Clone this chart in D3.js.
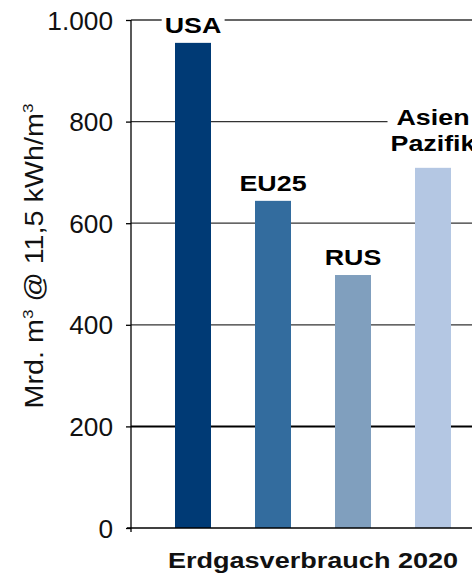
<!DOCTYPE html>
<html>
<head>
<meta charset="utf-8">
<script src="https://cdn.jsdelivr.net/npm/d3@7"></script>
<style>
  body { margin: 0; background: #fff; }
  svg { display: block; font-family: "Liberation Sans", Arial, sans-serif; }
</style>
</head>
<body>
<svg width="472" height="573"></svg>
<script>
var regions = ["USA", "EU25", "RUS", "Asien Pazifik"];
var labels = [["USA"], ["EU25"], ["RUS"], ["Asien", "Pazifik"]];
var values = [955, 644, 498, 709];
var colors = ["#003a75", "#336c9e", "#809fbe", "#b4c7e3"];
var ticks = [0, 200, 400, 600, 800, 1000];
var tickLabels = ["0", "200", "400", "600", "800", "1.000"];

var svg = d3.select("svg"),
  width = +svg.attr("width"),
  height = +svg.attr("height");

// the source picture is stretched sideways a bit, so text gets scaleX
var stretch = 1.22;

var y = d3.scaleLinear().domain([0, 1000]).range([528, 20]);
var x = d3.scaleBand().domain(regions).range([131, 495]).padding(0.55);

// gridlines
svg.selectAll(".grid")
  .data(ticks.slice(1))
  .enter().append("line")
  .attr("x1", 131).attr("x2", 495)
  .attr("y1", function(d) { return y(d); })
  .attr("y2", function(d) { return y(d); })
  .attr("stroke", function(d) { return d == 200 ? "#000" : "#333"; })
  .attr("stroke-width", function(d) { return d == 200 ? 2 : 1.3; });

// bars
svg.selectAll(".bar")
  .data(values)
  .enter().append("rect")
  .attr("x", function(d, i) { return x(regions[i]); })
  .attr("width", x.bandwidth())
  .attr("y", function(d) { return y(d); })
  .attr("height", function(d) { return y(0) - y(d); })
  .attr("fill", function(d, i) { return colors[i]; });

// y axis
var yAxis = d3.axisLeft(y)
  .tickValues(ticks)
  .tickSize(5)
  .tickFormat(function(d, i) { return tickLabels[i]; });

var ga = svg.append("g")
  .attr("transform", "translate(131,0)")
  .call(yAxis);
ga.select(".domain").attr("stroke", "#000").attr("stroke-width", 1.3)
  .attr("d", "M0," + (y(1000)) + "V" + (y(0) + 4));
ga.selectAll(".tick line").attr("stroke", "#000").attr("stroke-width", 1.3);
ga.selectAll(".tick text")
  .attr("x", -18 / 1.05)
  .attr("dy", "0.36em")
  .attr("transform", "scale(1.05,1)")
  .attr("fill", "#111")
  .style("font-size", "25px");

// x baseline
svg.append("line")
  .attr("x1", 127).attr("x2", 495)
  .attr("y1", y(0)).attr("y2", y(0))
  .attr("stroke", "#000").attr("stroke-width", 1.5);

// bar labels with white background
var lab = svg.selectAll(".lab")
  .data(values)
  .enter().append("g")
  .attr("transform", function(d, i) {
    var gap = labels[i].length > 1 ? 17 : 10;
    return "translate(" + (x(regions[i]) + x.bandwidth() / 2) + "," + (y(d) - gap) + ")";
  });

lab.each(function(d, i) {
  var g = d3.select(this);
  var lines = labels[i];
  var t = g.append("text")
    .attr("text-anchor", "middle")
    .attr("transform", "scale(" + stretch + ",1)")
    .style("font-size", "22px")
    .style("font-weight", "bold")
    .attr("fill", "#000");
  lines.forEach(function(s, j) {
    t.append("tspan")
      .attr("x", 0)
      .attr("y", -(lines.length - 1 - j) * 26)
      .text(s);
  });
  var bb = t.node().getBBox();
  g.insert("rect", "text")
    .attr("x", bb.x * stretch - 3).attr("y", bb.y)
    .attr("width", bb.width * stretch + 6).attr("height", bb.height)
    .attr("fill", "#fff");
});

// axis titles
svg.append("text")
  .attr("transform", "translate(43,256) rotate(-90) scale(1.15,1)")
  .attr("text-anchor", "middle")
  .style("font-size", "25px")
  .attr("fill", "#111")
  .html("Mrd. m<tspan dy='-10' font-size='15px'>3</tspan><tspan dy='10'> @ 11,5 kWh/m</tspan><tspan dy='-10' font-size='15px'>3</tspan>");

svg.append("text")
  .attr("transform", "translate(313,568) scale(1.23,1)")
  .attr("text-anchor", "middle")
  .style("font-size", "22px")
  .style("font-weight", "bold")
  .attr("fill", "#111")
  .text("Erdgasverbrauch 2020");
</script>
</body>
</html>
